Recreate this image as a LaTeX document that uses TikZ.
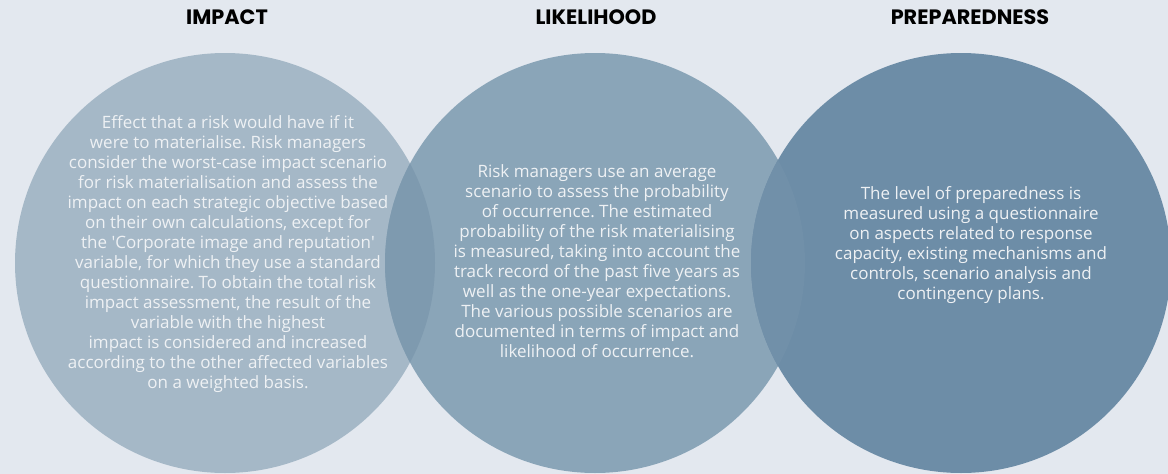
\documentclass[tikz,border=0pt]{standalone}
\usepackage{fontspec}
\setmainfont{Open Sans}
\newfontfamily\headfont{Poppins}
\frenchspacing
\definecolor{bg}{HTML}{E3E8EF}
\definecolor{cA}{HTML}{A5B8C7}
\definecolor{cB}{HTML}{8AA5B8}
\definecolor{cC}{HTML}{6D8DA7}
\definecolor{cAB}{HTML}{7E9AAF}
\definecolor{cBC}{HTML}{7190A9}
\definecolor{txt}{HTML}{EEF1F4}
\begin{document}
\begin{tikzpicture}[x=1pt,y=-1pt,
  disc/.style={circle,inner sep=0,minimum size=420pt},
  head/.style={anchor=base,font={\headfont\bfseries\fontsize{20.8}{24}\selectfont},text=black},
  body/.style={anchor=base,align=center,inner sep=0,text=txt,font={\frenchspacing\fontsize{17}{20}\selectfont}}]
\fill[bg] (0,0) rectangle (1168,474);
\useasboundingbox (0,0) rectangle (1168,474);
\node[disc,fill=cA] (ca) at (225,263) {};
\node[disc,fill=cB] (cb) at (595,263) {};
\node[disc,fill=cC] (cc) at (961,263) {};
\begin{scope}
  \clip (225,263) circle (210);
  \fill[cAB] (595,263) circle (210);
\end{scope}
\begin{scope}
  \clip (595,263) circle (210);
  \fill[cBC] (961,263) circle (210);
\end{scope}
\node[head] (ha) at (227,24) {IMPACT};
\node[head] (hb) at (596,24) {LIKELIHOOD};
\node[head] (hc) at (970,24) {PREPAREDNESS};
\node[body] (ta) at (228,388) {Effect that a risk would have if it\\
were to materialise. Risk managers\\
consider the worst-case impact scenario\\
for risk materialisation and assess the\\
impact on each strategic objective based\\
on their own calculations, except for\\
the \textquotesingle Corporate image and reputation\textquotesingle\\
variable, for which they use a standard\\
questionnaire. To obtain the total risk\\
impact assessment, the result of the\\
variable with the highest\\
impact is considered and increased\\
according to the other affected variables\\
on a weighted basis.};
\node[body] (tb) at (597,357) {Risk managers use an average\\
scenario to assess the probability\\
of occurrence. The estimated\\
probability of the risk materialising\\
is measured, taking into account the\\
track record of the past five years as\\
well as the one-year expectations.\\
The various possible scenarios are\\
documented in terms of impact and\\
likelihood of occurrence.};
\node[body] (tc) at (971,299) {The level of preparedness is\\
measured using a questionnaire\\
on aspects related to response\\
capacity, existing mechanisms and\\
controls, scenario analysis and\\
contingency plans.};
\end{tikzpicture}
\end{document}
